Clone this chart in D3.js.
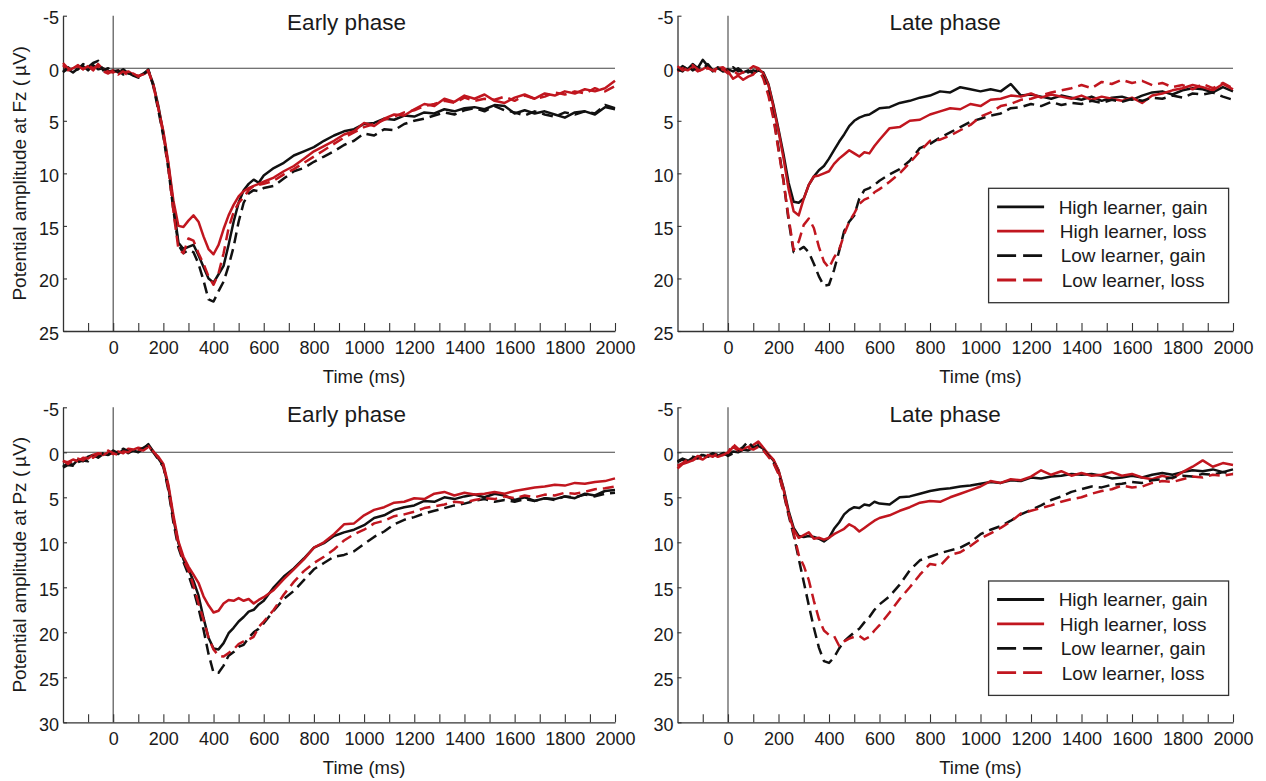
<!DOCTYPE html>
<html>
<head>
<meta charset="utf-8">
<script src="https://cdnjs.cloudflare.com/ajax/libs/d3/7.8.5/d3.min.js"></script>
<style>
  body { margin: 0; background: #fff; }
  text { font-family: "Liberation Sans", Arial, Helvetica, sans-serif; fill: #1a1a1a; }
</style>
</head>
<body>
<div id="chart"></div>
<script>
// sample times (ms), finer steps around the peak
var times = [
  -200, -180, -160, -140, -120, -100, -80, -60, -40, -20,
  0, 20, 40, 60, 80, 100, 120, 140, 160, 180,
  200, 220, 240, 260, 280, 300, 320, 340, 360, 380,
  400, 420, 440, 460, 480, 500, 520, 540, 560, 580,
  600, 640, 680, 720, 760, 800, 840, 880, 920, 960,
  1000, 1040, 1080, 1120, 1160, 1200, 1240, 1280, 1320, 1360,
  1400, 1440, 1480, 1520, 1560, 1600, 1640, 1680, 1720, 1760,
  1800, 1840, 1880, 1920, 1960, 2000
];

var seriesNames = ["High learner, gain", "High learner, loss", "Low learner, gain", "Low learner, loss"];

// Fz, early phase
var fzEarlyHighGain = [
  0.3, 0.1, 0.4, 0.0, -0.2, 0.2, -0.3, 0.1, 0.0, 0.3,
  0.2, 0.4, 0.1, 0.5, 0.6, 0.8, 0.5, 0.2, 1.5, 3.6,
  6.2, 9.2, 13.0, 16.6, 17.2, 17.0, 16.8, 17.8, 18.9, 20.0,
  20.4, 19.6, 18.8, 16.8, 14.6, 12.8, 11.6, 11.0, 10.6, 10.9,
  10.2, 9.5, 9.0, 8.3, 7.9, 7.5, 6.9, 6.4, 6.0, 5.8,
  5.3, 5.2, 4.8, 4.9, 4.5, 4.6, 4.2, 4.3, 3.9, 4.1,
  3.8, 3.7, 3.9, 3.5, 3.6, 4.3, 4.0, 4.3, 4.1, 4.4,
  4.7, 4.2, 4.1, 4.4, 3.7, 3.9
];
var fzEarlyHighLoss = [
  -0.3, 0.2, 0.0, -0.3, 0.1, -0.2, 0.2, -0.4, 0.1, 0.3,
  0.4, 0.2, 0.5, 0.3, 0.6, 0.7, 0.6, 0.3, 1.6, 3.8,
  6.0, 9.0, 12.6, 15.0, 15.1, 14.5, 14.0, 14.6, 16.0, 17.2,
  17.7, 16.8, 15.3, 14.0, 13.0, 12.2, 11.7, 11.4, 11.2, 11.0,
  10.8, 10.4, 9.8, 9.3, 8.6, 7.9, 7.4, 6.9, 6.3, 6.0,
  5.2, 5.5, 4.8, 4.4, 4.5, 3.9, 3.4, 3.6, 2.9, 3.2,
  2.6, 2.9, 2.5, 3.1, 3.3, 2.8, 2.5, 2.9, 2.4, 2.6,
  2.2, 2.4, 2.0, 2.2, 1.9, 1.2
];
var fzEarlyLowGain = [
  0.4, -0.1, 0.3, 0.1, -0.4, -0.1, -0.5, -0.7, 0.2, 0.0,
  0.3, 0.2, 0.6, 0.4, 0.7, 0.9, 0.6, 0.1, 1.7, 4.0,
  6.5, 9.6, 13.5, 16.8, 17.6, 17.3, 17.5, 18.6, 20.2, 22.0,
  22.2, 21.2, 20.3, 18.8, 17.0, 14.6, 12.8, 11.9, 11.6, 11.7,
  11.4, 11.2, 10.5, 9.8, 9.5, 8.9, 8.4, 7.9, 7.3, 6.9,
  6.2, 6.4, 5.8, 5.9, 5.3, 5.0, 4.8, 4.5, 4.2, 4.4,
  4.0, 3.8, 4.1, 3.6, 4.0, 4.2, 4.5, 4.1, 4.4, 4.6,
  4.2, 4.4, 4.1, 4.3, 3.5, 3.8
];
var fzEarlyLowLoss = [
  -0.5, 0.0, 0.2, -0.2, 0.1, -0.3, 0.0, -0.2, 0.3, 0.5,
  0.2, 0.6, 0.3, 0.7, 0.5, 0.8, 0.5, 0.2, 1.6, 3.8,
  6.3, 9.5, 13.6, 17.2, 17.6, 16.2, 16.4, 17.6, 18.6, 19.8,
  20.6, 19.5, 17.6, 15.2, 13.7, 12.8, 12.3, 11.6, 11.2, 11.1,
  11.0, 10.7, 10.1, 9.6, 9.0, 8.4, 7.8, 7.2, 6.6, 6.1,
  5.6, 5.3, 4.9, 4.6, 4.2, 4.0, 3.6, 3.4, 3.1, 3.3,
  2.8, 3.1, 2.9, 3.0, 2.7, 3.1, 2.6, 2.9, 2.7, 2.3,
  2.5, 2.2, 2.4, 1.9, 2.2, 1.7
];

// Fz, late phase
var fzLateHighGain = [
  0.2, -0.2, 0.1, -0.4, 0.0, -0.8, -0.2, 0.3, -0.1, 0.2,
  0.1, 0.3, 0.0, 0.4, 0.2, 0.5, 0.2, 0.4, 1.5, 3.5,
  5.8, 8.2, 10.9, 12.7, 12.8, 12.4, 11.1, 10.3, 9.7, 9.3,
  8.6, 7.8, 7.0, 6.3, 5.5, 5.0, 4.7, 4.5, 4.4, 4.1,
  3.8, 3.7, 3.3, 3.1, 2.8, 2.6, 2.2, 2.3, 1.8, 2.0,
  2.2, 2.0, 2.2, 1.5, 2.6, 2.5, 2.7, 2.9, 2.6, 2.8,
  3.0, 2.7, 3.1, 2.8, 2.7, 3.0, 2.6, 2.3, 2.2, 2.5,
  2.1, 1.9, 2.0, 2.3, 1.8, 2.2
];
var fzLateHighLoss = [
  0.3, 0.0, 0.2, -0.1, 0.3, 0.1, -0.2, 0.2, 0.0, -0.1,
  0.3, 1.0, 0.7, 1.1, 0.8, 0.6, 0.0, 0.5, 1.6, 3.7,
  6.0, 8.6, 11.5, 13.6, 14.0, 12.4, 11.1, 10.3, 10.2, 10.0,
  9.8, 9.1, 8.6, 8.2, 7.8, 8.1, 8.4, 8.0, 8.1, 7.4,
  6.8, 5.7, 5.6, 5.0, 4.9, 4.4, 4.1, 3.8, 3.9, 3.4,
  3.6, 3.0, 2.9, 2.6, 2.7, 2.4, 2.8, 2.5, 2.7, 2.9,
  2.6, 3.0, 2.7, 2.9, 3.1, 2.8, 3.3, 2.6, 2.4, 2.1,
  1.9, 1.6, 1.8, 2.1, 1.5, 2.0
];
var fzLateLowGain = [
  0.1, 0.3, -0.2, 0.2, -0.1, 0.1, -0.4, 0.2, 0.0, 0.3,
  0.2, -0.1, 0.3, 0.1, 0.4, 0.2, 0.3, 0.8, 2.3, 4.6,
  7.6, 10.7, 14.5, 17.5, 17.3, 17.0, 17.5, 18.6, 19.8, 20.7,
  20.6, 19.2, 17.4, 15.5, 14.6, 14.0, 12.4, 11.6, 11.4, 11.1,
  10.7, 10.1, 9.6, 8.8, 7.6, 7.2, 6.6, 6.1, 5.6, 5.1,
  4.8, 4.5, 4.3, 3.8, 3.7, 3.4, 3.6, 3.2, 3.5, 3.3,
  3.4, 3.1, 3.3, 3.0, 3.2, 2.9, 3.1, 2.8, 2.9, 2.6,
  2.8, 2.4, 2.5, 2.3, 2.7, 3.0
];
var fzLateLowLoss = [
  -0.2, 0.2, 0.0, -0.3, 0.1, 0.3, 0.0, 0.2, 0.4, 0.1,
  0.5, 0.2, 0.6, 0.4, 0.2, -0.2, 0.0, 1.0, 2.6, 4.8,
  7.8, 10.8, 14.2, 17.3, 16.5, 14.9, 14.3, 15.2, 17.0, 18.4,
  19.0, 18.0, 17.3, 15.8, 14.6, 13.8, 12.9, 12.5, 12.3, 11.8,
  11.5, 10.8, 10.0, 9.0, 7.9, 6.9, 6.8, 6.4, 5.9, 5.4,
  4.6, 4.2, 3.6, 3.4, 3.0, 2.9, 2.6, 2.3, 2.1, 1.9,
  1.6, 1.9, 1.3, 1.5, 1.1, 1.4, 1.2, 1.6, 1.4, 1.8,
  1.6, 2.0, 1.5, 1.9, 1.4, 1.9
];

// Pz, early phase
var pzEarlyHighGain = [
  1.6, 1.2, 1.4, 0.8, 1.0, 0.5, 0.3, 0.6, 0.2, 0.3,
  0.0, 0.2, -0.3, 0.1, -0.2, 0.0, -0.4, -0.9, -0.1, 0.7,
  1.5, 3.9, 7.4, 10.1, 11.9, 13.0, 14.3, 15.9, 18.4, 20.6,
  21.8, 21.9, 21.2, 20.1, 19.5, 18.8, 18.3, 17.7, 17.5, 16.9,
  16.5, 15.0, 13.8, 12.9, 11.8, 10.6, 10.1, 9.3, 8.9, 8.6,
  8.1, 7.3, 7.0, 6.4, 6.1, 5.9, 5.4, 5.5, 5.0, 5.2,
  4.9, 4.7, 5.0, 4.6, 4.8, 5.3, 5.0, 5.4, 5.1, 5.2,
  4.9, 5.1, 4.6, 4.8, 4.3, 4.2
];
var pzEarlyHighLoss = [
  1.0, 1.1, 0.8, 1.0, 0.6, 0.7, 0.3, 0.1, 0.3, 0.0,
  0.2, -0.1, 0.1, -0.4, -0.3, -0.5, -0.4, -0.7, 0.0, 0.5,
  1.3, 3.6, 7.0, 9.9, 11.6, 12.7, 13.6, 14.5, 16.0, 17.0,
  17.8, 17.6, 16.8, 16.4, 16.5, 16.2, 16.5, 16.3, 16.8, 16.4,
  16.1, 15.3, 14.1, 13.0, 11.9, 10.6, 10.0, 9.1, 8.0, 7.9,
  7.0, 6.4, 6.1, 5.6, 5.5, 5.1, 5.2, 4.6, 4.4, 4.8,
  4.5, 4.7, 4.6, 4.4, 4.6, 4.3, 4.1, 3.9, 3.8, 3.6,
  3.7, 3.4, 3.5, 3.3, 3.2, 2.9
];
var pzEarlyLowGain = [
  1.7, 1.4, 1.5, 1.1, 0.9, 1.0, 0.5, 0.4, 0.1, 0.3,
  -0.2, 0.1, -0.4, -0.1, -0.3, -0.2, -0.5, -0.8, 0.0, 0.8,
  1.6, 4.2, 7.8, 10.6, 12.2, 13.6, 15.3, 17.3, 19.7, 22.4,
  24.5, 24.5, 23.7, 22.6, 22.2, 21.6, 21.4, 20.6, 20.0, 19.6,
  19.0, 17.6, 16.3, 15.4, 14.2, 13.0, 12.3, 11.6, 11.4, 11.0,
  10.2, 9.4, 8.8, 8.0, 7.5, 7.2, 6.8, 6.5, 6.2, 5.9,
  5.7, 5.4, 5.2, 5.5, 5.3, 5.5, 5.2, 5.4, 5.1, 5.3,
  4.9, 5.0, 4.7, 4.9, 4.6, 4.5
];
var pzEarlyLowLoss = [
  0.9, 1.3, 0.9, 0.7, 0.9, 0.4, 0.6, 0.2, 0.1, -0.2,
  0.1, 0.3, -0.1, 0.0, -0.4, -0.3, -0.2, -0.6, -0.1, 0.6,
  1.5, 3.9, 7.3, 10.3, 12.0, 13.1, 14.8, 16.8, 18.6, 20.6,
  21.9, 22.6, 22.7, 22.3, 21.9, 21.3, 21.0, 20.8, 20.5, 19.4,
  18.8, 17.5, 15.8, 14.4, 13.2, 12.3, 11.6, 10.8, 9.8, 9.1,
  8.6, 7.9, 7.6, 7.1, 6.9, 6.6, 6.2, 6.0, 5.8, 5.5,
  5.6, 5.3, 5.1, 5.2, 4.9, 5.1, 4.8, 5.0, 4.7, 4.8,
  4.5, 4.6, 4.4, 4.1, 4.0, 3.8
];

// Pz, late phase
var pzLateHighGain = [
  1.1, 0.8, 1.0, 0.6, 0.7, 0.3, 0.5, 0.2, 0.4, 0.1,
  0.3, -0.1, 0.0, -0.3, -0.2, -0.5, -0.7, -0.4, 0.3, 0.9,
  2.0, 4.0, 6.5, 8.4, 9.3, 9.4, 9.3, 9.4, 9.6, 9.9,
  9.5, 8.5, 7.8, 6.9, 6.4, 6.1, 6.2, 5.8, 5.9, 5.5,
  5.7, 5.8, 5.0, 4.9, 4.6, 4.3, 4.1, 4.0, 3.8, 3.7,
  3.5, 3.3, 3.4, 3.1, 3.2, 2.8, 2.9, 2.7, 2.6, 2.4,
  2.5, 2.4, 2.6, 2.9, 2.8, 2.6, 2.8, 2.5, 2.3, 2.5,
  2.2, 2.0, 2.1, 1.9, 2.2, 1.9
];
var pzLateHighLoss = [
  1.8, 1.3, 1.1, 0.9, 0.6, 0.8, 0.4, 0.2, 0.5, 0.3,
  0.1, -0.6, -0.2, -0.4, -0.6, -0.8, -1.2, -0.5, 0.2, 0.8,
  2.0, 4.1, 6.8, 8.6, 9.5, 9.2, 8.9, 9.6, 9.5, 9.7,
  9.5, 9.1, 8.8, 8.5, 8.0, 8.3, 8.8, 8.4, 8.0, 7.6,
  7.3, 7.0, 6.5, 6.1, 5.6, 5.4, 5.5, 5.0, 4.6, 4.2,
  3.8, 3.2, 3.4, 3.0, 3.1, 2.7, 2.0, 2.5, 2.1, 2.6,
  2.3, 2.6, 2.5, 2.2, 2.6, 2.4, 2.8, 3.0, 2.6, 2.9,
  2.2, 1.6, 0.9, 1.6, 1.2, 1.4
];
var pzLateLowGain = [
  1.0, 0.7, 0.9, 0.5, 0.6, 0.2, 0.4, 0.1, 0.3, 0.0,
  0.4, 0.1, -0.2, -0.6, -1.2, -0.5, -0.8, -0.3, 0.4, 1.1,
  2.3, 4.5, 7.0, 9.2, 11.8, 14.4, 17.0, 19.5, 21.7, 23.2,
  23.4, 22.8, 21.8, 21.0, 20.5, 20.0, 19.6, 18.9, 18.3, 17.5,
  16.9, 16.0, 14.7, 13.1, 12.0, 11.6, 11.2, 10.9, 10.6, 10.0,
  9.1, 8.6, 8.2, 7.6, 6.9, 6.4, 5.9, 5.3, 4.9, 4.4,
  4.1, 3.8, 3.9, 3.6, 3.5, 3.3, 3.4, 3.1, 3.0, 2.8,
  2.6, 2.7, 2.4, 2.5, 2.2, 2.4
];
var pzLateLowLoss = [
  1.5, 1.2, 0.8, 0.9, 0.4, 0.6, 0.3, 0.5, 0.1, 0.3,
  0.0, -0.9, -0.4, -0.2, -0.5, -0.3, -0.6, -0.2, 0.5, 1.2,
  2.4, 4.4, 6.8, 9.0, 11.4, 12.6, 14.2, 16.5, 18.5, 19.8,
  20.3, 20.4, 21.5, 21.0, 20.7, 20.5, 20.4, 20.8, 20.5, 19.8,
  19.2, 17.8, 16.3, 15.0, 13.6, 12.4, 12.6, 11.4, 11.1, 10.4,
  9.6, 9.0, 8.4, 7.7, 6.8, 6.5, 6.2, 5.9, 5.5, 5.2,
  5.0, 4.6, 4.3, 4.1, 3.7, 3.9, 3.8, 3.4, 3.2, 3.3,
  3.0, 2.7, 2.8, 2.5, 2.6, 2.4
];

// tick values
var xTickValues = [-100, 0, 100, 200, 300, 400, 500, 600, 700, 800, 900, 1000,
  1100, 1200, 1300, 1400, 1500, 1600, 1700, 1800, 1900, 2000];
var xTickLabels = [0, 200, 400, 600, 800, 1000, 1200, 1400, 1600, 1800, 2000];
var fzTicks = [-5, 0, 5, 10, 15, 20, 25];
var pzTicks = [-5, 0, 5, 10, 15, 20, 25, 30];

var colors = ["#111111", "#c1161f", "#111111", "#c1161f"];
var dashes = [null, null, "11,6", "11,6"];

var panels = [
  { left: 63, right: 615, top: 15.7, bottom: 331, yMax: 25, ticks: fzTicks, title: "Early phase", titleT: 930,
    ylabel: "Potential amplitude at Fz (\u2009\u00b5V)", legendTop: null,
    series: [fzEarlyHighGain, fzEarlyHighLoss, fzEarlyLowGain, fzEarlyLowLoss] },
  { left: 677.5, right: 1233, top: 15.7, bottom: 331, yMax: 25, ticks: fzTicks, title: "Late phase", titleT: 860,
    ylabel: null, legendTop: 188.3,
    series: [fzLateHighGain, fzLateHighLoss, fzLateLowGain, fzLateLowLoss] },
  { left: 63, right: 615, top: 407.3, bottom: 722.3, yMax: 30, ticks: pzTicks, title: "Early phase", titleT: 930,
    ylabel: "Potential amplitude at Pz (\u2009\u00b5V)", legendTop: null,
    series: [pzEarlyHighGain, pzEarlyHighLoss, pzEarlyLowGain, pzEarlyLowLoss] },
  { left: 677.5, right: 1233, top: 407.3, bottom: 722.3, yMax: 30, ticks: pzTicks, title: "Late phase", titleT: 860,
    ylabel: null, legendTop: 581,
    series: [pzLateHighGain, pzLateHighLoss, pzLateLowGain, pzLateLowLoss] }
];

var svg = d3.select("#chart")
  .append("svg")
  .attr("width", 1266)
  .attr("height", 781);

panels.forEach(function(p) {
  var x = d3.scaleLinear().domain([-200, 2000]).range([p.left, p.right]);
  var y = d3.scaleLinear().domain([-5, p.yMax]).range([p.top, p.bottom]);

  var g = svg.append("g").attr("class", "panel");

  // zero lines
  g.append("line")
    .attr("x1", p.left).attr("x2", p.right)
    .attr("y1", y(0)).attr("y2", y(0))
    .attr("stroke", "#444").attr("stroke-width", 1.1);
  g.append("line")
    .attr("x1", x(0)).attr("x2", x(0))
    .attr("y1", p.top).attr("y2", p.bottom)
    .attr("stroke", "#444").attr("stroke-width", 1.1);

  // x axis, inward ticks every 100 ms, labels every 200 ms
  var xAxis = g.append("g")
    .attr("class", "axis axis--x")
    .attr("transform", "translate(0," + p.bottom + ")")
    .call(d3.axisBottom(x)
      .tickValues(xTickValues)
      .tickSize(-8)
      .tickSizeOuter(0)
      .tickPadding(10)
      .tickFormat(function(d) { return xTickLabels.indexOf(d) >= 0 ? d : ""; }));

  // plain hyphen for the minus sign, as in the original
  var yAxis = g.append("g")
    .attr("class", "axis axis--y")
    .attr("transform", "translate(" + p.left + ",0)")
    .call(d3.axisLeft(y)
      .tickValues(p.ticks)
      .tickSize(-4)
      .tickSizeOuter(0)
      .tickPadding(4)
      .tickFormat(function(d) { return String(d); }));

  [xAxis, yAxis].forEach(function(a) {
    a.select(".domain").attr("stroke", "#333").attr("stroke-width", 1.3);
    a.selectAll(".tick line").attr("stroke", "#333").attr("stroke-width", 1.1);
    a.selectAll("text")
      .attr("fill", "#1a1a1a")
      .style("font-size", "18px")
      .style("font-family", "'Liberation Sans', Arial, sans-serif");
  });
  yAxis.selectAll(".tick text").attr("dy", "0.45em");

  // curves
  var line = d3.line()
    .x(function(d, i) { return x(times[i]); })
    .y(function(d) { return y(d); });

  g.selectAll(".erp")
    .data(p.series)
    .enter().append("path")
      .attr("class", "erp")
      .attr("d", line)
      .attr("fill", "none")
      .attr("stroke", function(d, i) { return colors[i]; })
      .attr("stroke-width", 2.5)
      .attr("stroke-linejoin", "round")
      .attr("stroke-dasharray", function(d, i) { return dashes[i]; });

  // titles
  g.append("text")
    .attr("x", x(p.titleT))
    .attr("y", p.top + 14.5)
    .attr("text-anchor", "middle")
    .style("font-size", "22.5px")
    .text(p.title);

  g.append("text")
    .attr("x", x(1000))
    .attr("y", p.bottom + 52)
    .attr("text-anchor", "middle")
    .style("font-size", "18.5px")
    .text("Time (ms)");

  if (p.ylabel) {
    g.append("text")
      .attr("transform", "translate(26," + ((p.top + p.bottom) / 2) + ") rotate(-90)")
      .attr("text-anchor", "middle")
      .style("font-size", "19px")
      .text(p.ylabel);
  }

  if (p.legendTop !== null) {
    var legend = g.append("g")
      .attr("class", "legend")
      .attr("transform", "translate(988.6," + p.legendTop + ")");

    legend.append("rect")
      .attr("width", 240)
      .attr("height", 114.4)
      .attr("fill", "#fff")
      .attr("stroke", "#333")
      .attr("stroke-width", 1.3);

    var item = legend.selectAll(".item")
      .data(seriesNames)
      .enter().append("g")
      .attr("class", "item")
      .attr("transform", function(d, i) { return "translate(0," + (18.5 + i * 24.4) + ")"; });

    item.append("line")
      .attr("x1", 8.5).attr("x2", 55.5)
      .attr("stroke", function(d, i) { return colors[i]; })
      .attr("stroke-width", 2.8)
      .attr("stroke-dasharray", function(d, i) { return dashes[i] ? "19,7" : null; });

    item.append("text")
      .attr("x", 144.5)
      .attr("dy", "0.36em")
      .attr("text-anchor", "middle")
      .style("font-size", "19px")
      .text(function(d) { return d; });
  }
});
</script>
</body>
</html>
